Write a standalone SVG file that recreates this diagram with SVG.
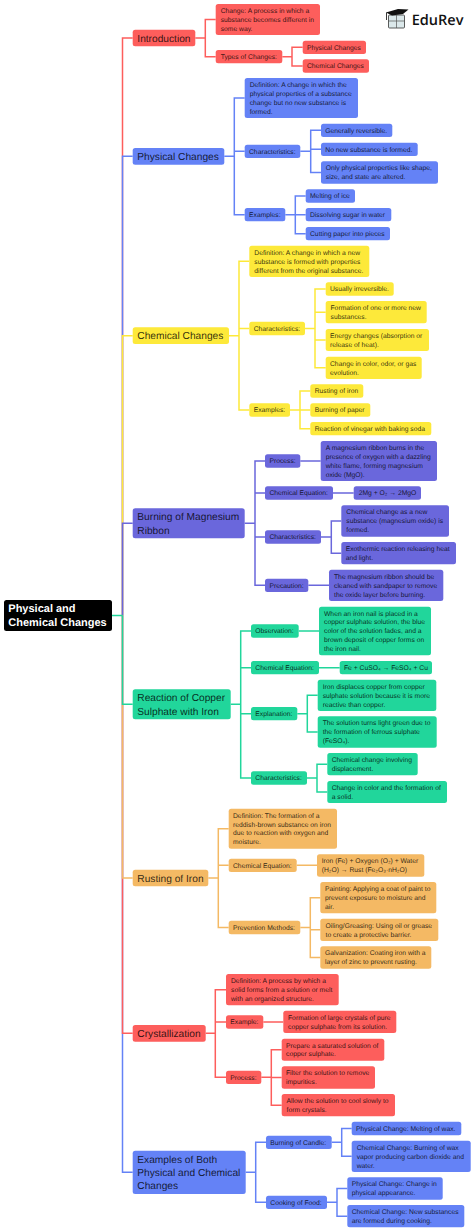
<svg xmlns="http://www.w3.org/2000/svg" width="474" height="1231" viewBox="0 0 474 1231">
<style>
text{font-family:"Liberation Sans",Arial,sans-serif;fill:#000;fill-opacity:.8;text-rendering:geometricPrecision}
.s{font-size:6.75px}.l{font-size:10.2px}
.r{font-size:11px;font-weight:700;fill:#fff;fill-opacity:1}
path{fill:none;stroke-width:1.5}
.cr{stroke:#fd5e5c}.cb{stroke:#6482f6}.cy{stroke:#fde93a}.cp{stroke:#6a67dc}.cg{stroke:#21d69b}.co{stroke:#f4b964}
.red rect{fill:#fd5e5c}.blue rect{fill:#6482f6}.yel rect{fill:#fde93a}.pur rect{fill:#6a67dc}.grn rect{fill:#21d69b}.org rect{fill:#f4b964}
rect{rx:2.5px;ry:2.5px}
</style>
<rect width="474" height="1231" fill="#fff" style="rx:0;ry:0"/>
<g id="connectors">
<path class="cr" d="M122.5 615.5V38H132.7"/>
<path class="cb" d="M122.5 615.5V156.35H132.7"/>
<path class="cy" d="M122.5 615.5V335.65H132.7"/>
<path class="cp" d="M122.5 615.5V523.3H132.7"/>
<path class="cb" d="M122.5 615.5V1172.35H132.7"/>
<path class="cr" d="M122.5 615.5V1033.35H132.7"/>
<path class="co" d="M122.5 615.5V878H132.7"/>
<path class="cg" d="M122.5 615.5V704.3H132.7"/>
<path class="cg" d="M112 615.5H122.5"/>
<path class="cr" d="M195.3 38H205.3M215.7 19.5H205.3V56.65H215.7M282.3 56.65H292M302.7 47.35H292V66H302.7"/>
<path class="cb" d="M224.3 156.35H234.3M244.7 98H234.3V214.65H244.7M234.3 151.35H244.7M300.3 151.35H310.7M321 130.35H310.7V172.5H321M310.7 149.35H321M285.3 214.65H295.3M305.7 196H295.3V233.65H305.7M295.3 214.65H305.7"/>
<path class="cy" d="M229 335.65H239M249.3 261.35H239V410H249.3M239 328.5H249.3M305 328.5H315M325.7 289H315V367.85H325.7M315 312.15H325.7M315 340H325.7M290 410H300M310.3 391H300V428.65H310.3M300 410H310.3"/>
<path class="cp" d="M244.7 523.3H255M265 461H255V585.35H265M255 493H265M255 537H265M300.3 461H320.7M333 493H353.7M321 537H331.3M341.3 521H331.3V553.15H341.3M308.3 585.35H329"/>
<path class="cg" d="M230.7 704.3H240.7M251 631H240.7V778H251M240.7 667.65H251M240.7 713.65H251M298.7 631H319M319 667.65H339.7M297.3 713.65H307.3M317.7 695.35H307.3V732H317.7M307 778H317M327.3 764.15H317V792H327.3"/>
<path class="co" d="M208.3 878H218.3M228.7 828.7H218.3V927.5H228.7M218.3 865.35H228.7M296.7 865.35H317M300.3 927.5H310.3M320.3 897.65H310.3V957.5H320.3M310.3 929.85H320.3"/>
<path class="cr" d="M205.7 1033.35H215.3M226 989.65H215.3V1077.35H226M215.3 1022H226M263.3 1022H283.3M261.3 1077.35H271.3M281.7 1049.7H271.3V1105.15H281.7M271.3 1077.5H281.7"/>
<path class="cb" d="M245.7 1172.35H255.7M266 1142.35H255.7V1202.35H266M331.7 1142.35H341.7M351.7 1128.5H341.7V1156.35H351.7M327 1202.35H337M347.3 1188.5H337V1216.15H347.3"/>
</g>
<g id="root"><rect x="4" y="600" width="108" height="31" fill="#000"/><text class="r" x="8.3" y="611.8">Physical and<tspan x="8.3" dy="14.6">Chemical Changes</tspan></text></g>

<g id="introduction" class="red"><rect x="132.7" y="29.7" width="62.6" height="16.6"/><text class="l" x="137.3" y="41.6">Introduction</text></g>
<g id="intro-change" class="red"><rect x="215.7" y="4" width="104.3" height="31"/><text class="s" x="220.7" y="12.9">Change: A process in which a<tspan x="220.7" dy="8.9">substance becomes different in</tspan><tspan x="220.7" dy="8.9">some way.</tspan></text></g>
<g id="intro-types" class="red"><rect x="215.7" y="50" width="66.6" height="13.3"/><text class="s" x="220.7" y="59">Types of Changes:</text></g>
<g id="intro-physical" class="red"><rect x="302.7" y="40.7" width="63.3" height="13.3"/><text class="s" x="306.9" y="49.7">Physical Changes</text></g>
<g id="intro-chemical" class="red"><rect x="302.7" y="59.3" width="66.3" height="13.4"/><text class="s" x="306.9" y="68.3">Chemical Changes</text></g>

<g id="physical" class="blue"><rect x="132.7" y="148" width="91.6" height="16.7"/><text class="l" x="137.3" y="160">Physical Changes</text></g>
<g id="phys-def" class="blue"><rect x="244.7" y="78" width="113.3" height="40"/><text class="s" x="249.7" y="86.95">Definition: A change in which the<tspan x="249.7" dy="8.9">physical properties of a substance</tspan><tspan x="249.7" dy="8.9">change but no new substance is</tspan><tspan x="249.7" dy="8.9">formed.</tspan></text></g>
<g id="phys-char" class="blue"><rect x="244.7" y="144.7" width="55.6" height="13.3"/><text class="s" x="249" y="153.7">Characteristics:</text></g>
<g id="phys-char1" class="blue"><rect x="321" y="123.7" width="71.3" height="13.3"/><text class="s" x="325.3" y="132.7">Generally reversible.</text></g>
<g id="phys-char2" class="blue"><rect x="321" y="142.7" width="96.7" height="13.3"/><text class="s" x="325.3" y="151.7">No new substance is formed.</text></g>
<g id="phys-char3" class="blue"><rect x="321" y="161.3" width="117" height="22.4"/><text class="s" x="325.8" y="170.35">Only physical properties like shape,<tspan x="325.8" dy="8.9">size, and state are altered.</tspan></text></g>
<g id="phys-ex" class="blue"><rect x="244.7" y="208" width="40.6" height="13.3"/><text class="s" x="249" y="217">Examples:</text></g>
<g id="phys-ex1" class="blue"><rect x="305.7" y="189.3" width="49.3" height="13.4"/><text class="s" x="310" y="198.3">Melting of ice</text></g>
<g id="phys-ex2" class="blue"><rect x="305.7" y="208" width="85.6" height="13.3"/><text class="s" x="310" y="217">Dissolving sugar in water</text></g>
<g id="phys-ex3" class="blue"><rect x="305.7" y="227" width="84.3" height="13.3"/><text class="s" x="310" y="236">Cutting paper into pieces</text></g>

<g id="chemical" class="yel"><rect x="132.7" y="327.3" width="96.3" height="16.7"/><text class="l" x="137.3" y="339.2">Chemical Changes</text></g>
<g id="chem-def" class="yel"><rect x="249.3" y="245.7" width="120" height="31.3"/><text class="s" x="254.3" y="254.75">Definition: A change in which a new<tspan x="254.3" dy="8.9">substance is formed with properties</tspan><tspan x="254.3" dy="8.9">different from the original substance.</tspan></text></g>
<g id="chem-char" class="yel"><rect x="249.3" y="321.7" width="55.7" height="13.6"/><text class="s" x="253.7" y="330.8">Characteristics:</text></g>
<g id="chem-char1" class="yel"><rect x="325.7" y="282.3" width="68" height="13.4"/><text class="s" x="330" y="291.3">Usually irreversible.</text></g>
<g id="chem-char2" class="yel"><rect x="325.7" y="301" width="101" height="22.3"/><text class="s" x="330.5" y="310">Formation of one or more new<tspan x="330.5" dy="8.9">substances.</tspan></text></g>
<g id="chem-char3" class="yel"><rect x="325.7" y="329" width="103.3" height="22"/><text class="s" x="330" y="337.85">Energy changes (absorption or<tspan x="330" dy="8.9">release of heat).</tspan></text></g>
<g id="chem-char4" class="yel"><rect x="325.7" y="356.7" width="96" height="22.3"/><text class="s" x="330" y="365.7">Change in color, odor, or gas<tspan x="330" dy="8.9">evolution.</tspan></text></g>
<g id="chem-ex" class="yel"><rect x="249.3" y="403.3" width="40.7" height="13.4"/><text class="s" x="253.7" y="412.3">Examples:</text></g>
<g id="chem-ex1" class="yel"><rect x="310.3" y="384.3" width="53" height="13.4"/><text class="s" x="314.7" y="393.3">Rusting of iron</text></g>
<g id="chem-ex2" class="yel"><rect x="310.3" y="403.3" width="60" height="13.4"/><text class="s" x="314.7" y="412.3">Burning of paper</text></g>
<g id="chem-ex3" class="yel"><rect x="310.3" y="422" width="121" height="13.3"/><text class="s" x="314.7" y="431">Reaction of vinegar with baking soda</text></g>

<g id="magnesium" class="pur"><rect x="132.7" y="508.3" width="112" height="30"/><text class="l" x="137.3" y="520.25">Burning of Magnesium<tspan x="137.3" dy="13.3">Ribbon</tspan></text></g>
<g id="mg-process" class="pur"><rect x="265" y="454.3" width="35.3" height="13.4"/><text class="s" x="269.4" y="463.3">Process:</text></g>
<g id="mg-process1" class="pur"><rect x="320.7" y="441" width="116.3" height="40"/><text class="s" x="325.7" y="449.95">A magnesium ribbon burns in the<tspan x="325.7" dy="8.9">presence of oxygen with a dazzling</tspan><tspan x="325.7" dy="8.9">white flame, forming magnesium</tspan><tspan x="325.7" dy="8.9">oxide (MgO).</tspan></text></g>
<g id="mg-eq" class="pur"><rect x="265" y="486.3" width="68" height="13.4"/><text class="s" x="269.4" y="495.3">Chemical Equation:</text></g>
<g id="mg-eq1" class="pur"><rect x="353.7" y="486.3" width="67.3" height="13.4"/><text class="s" x="358.7" y="495.3">2Mg + O₂ → 2MgO</text></g>
<g id="mg-char" class="pur"><rect x="265" y="530.3" width="56" height="13.4"/><text class="s" x="269.4" y="539.3">Characteristics:</text></g>
<g id="mg-char1" class="pur"><rect x="341.3" y="505.3" width="107.7" height="31.4"/><text class="s" x="346.3" y="514.4">Chemical change as a new<tspan x="346.3" dy="8.9">substance (magnesium oxide) is</tspan><tspan x="346.3" dy="8.9">formed.</tspan></text></g>
<g id="mg-char2" class="pur"><rect x="341.3" y="542" width="114.7" height="22.3"/><text class="s" x="345.7" y="551">Exothermic reaction releasing heat<tspan x="345.7" dy="8.9">and light.</tspan></text></g>
<g id="mg-prec" class="pur"><rect x="265" y="578.7" width="43.3" height="13.3"/><text class="s" x="269.4" y="587.7">Precaution:</text></g>
<g id="mg-prec1" class="pur"><rect x="329" y="569.7" width="114.3" height="31.3"/><text class="s" x="334" y="578.75">The magnesium ribbon should be<tspan x="334" dy="8.9">cleaned with sandpaper to remove</tspan><tspan x="334" dy="8.9">the oxide layer before burning.</tspan></text></g>

<g id="copper" class="grn"><rect x="132.7" y="689.3" width="98" height="30"/><text class="l" x="137.3" y="701.25">Reaction of Copper<tspan x="137.3" dy="13.3">Sulphate with Iron</tspan></text></g>
<g id="cu-obs" class="grn"><rect x="251" y="624.3" width="47.7" height="13.4"/><text class="s" x="255.3" y="633.3">Observation:</text></g>
<g id="cu-obs1" class="grn"><rect x="319" y="606.7" width="112" height="48.6"/><text class="s" x="324" y="615.5">When an iron nail is placed in a<tspan x="324" dy="8.9">copper sulphate solution, the blue</tspan><tspan x="324" dy="8.9">color of the solution fades, and a</tspan><tspan x="324" dy="8.9">brown deposit of copper forms on</tspan><tspan x="324" dy="8.9">the iron nail.</tspan></text></g>
<g id="cu-eq" class="grn"><rect x="251" y="661" width="68" height="13.3"/><text class="s" x="255.3" y="670">Chemical Equation:</text></g>
<g id="cu-eq1" class="grn"><rect x="339.7" y="661" width="92.3" height="13.3"/><text class="s" x="344" y="670">Fe + CuSO₄ → FeSO₄ + Cu</text></g>
<g id="cu-exp" class="grn"><rect x="251" y="707" width="46.3" height="13.3"/><text class="s" x="255.3" y="716">Explanation:</text></g>
<g id="cu-exp1" class="grn"><rect x="317.7" y="679.7" width="118.6" height="31.3"/><text class="s" x="322.7" y="688.75">Iron displaces copper from copper<tspan x="322.7" dy="8.9">sulphate solution because it is more</tspan><tspan x="322.7" dy="8.9">reactive than copper.</tspan></text></g>
<g id="cu-exp2" class="grn"><rect x="317.7" y="716.3" width="119" height="31.4"/><text class="s" x="322.7" y="725.4">The solution turns light green due to<tspan x="322.7" dy="8.9">the formation of ferrous sulphate</tspan><tspan x="322.7" dy="8.9">(FeSO₄).</tspan></text></g>
<g id="cu-char" class="grn"><rect x="251" y="771.3" width="56" height="13.4"/><text class="s" x="255.3" y="780.3">Characteristics:</text></g>
<g id="cu-char1" class="grn"><rect x="327.3" y="753" width="90.4" height="22.3"/><text class="s" x="331.7" y="762">Chemical change involving<tspan x="331.7" dy="8.9">displacement.</tspan></text></g>
<g id="cu-char2" class="grn"><rect x="327.3" y="781" width="119.7" height="22"/><text class="s" x="331.7" y="789.85">Change in color and the formation of<tspan x="331.7" dy="8.9">a solid.</tspan></text></g>

<g id="rusting" class="org"><rect x="132.7" y="869.7" width="75.6" height="16.6"/><text class="l" x="137.3" y="881.6">Rusting of Iron</text></g>
<g id="rust-def" class="org"><rect x="228.7" y="808.7" width="108.3" height="40"/><text class="s" x="233" y="817.65">Definition: The formation of a<tspan x="233" dy="8.9">reddish-brown substance on iron</tspan><tspan x="233" dy="8.9">due to reaction with oxygen and</tspan><tspan x="233" dy="8.9">moisture.</tspan></text></g>
<g id="rust-eq" class="org"><rect x="228.7" y="858.7" width="68" height="13.3"/><text class="s" x="233" y="867.7">Chemical Equation:</text></g>
<g id="rust-eq1" class="org"><rect x="317" y="854.3" width="107.3" height="22.4"/><text class="s" x="321.7" y="863.35">Iron (Fe) + Oxygen (O₂) + Water<tspan x="321.7" dy="8.9">(H₂O) → Rust (Fe₂O₃·nH₂O)</tspan></text></g>
<g id="rust-prev" class="org"><rect x="228.7" y="920.7" width="71.6" height="13.6"/><text class="s" x="233" y="929.8">Prevention Methods:</text></g>
<g id="rust-prev1" class="org"><rect x="320.3" y="882" width="116" height="31.3"/><text class="s" x="325" y="891">Painting: Applying a coat of paint to<tspan x="325" dy="8.9">prevent exposure to moisture and</tspan><tspan x="325" dy="8.9">air.</tspan></text></g>
<g id="rust-prev2" class="org"><rect x="320.3" y="918.7" width="118" height="22.3"/><text class="s" x="325.5" y="927.7">Oiling/Greasing: Using oil or grease<tspan x="325.5" dy="8.9">to create a protective barrier.</tspan></text></g>
<g id="rust-prev3" class="org"><rect x="320.3" y="946.3" width="111" height="22.4"/><text class="s" x="325" y="955.35">Galvanization: Coating iron with a<tspan x="325" dy="8.9">layer of zinc to prevent rusting.</tspan></text></g>

<g id="crystallization" class="red"><rect x="132.7" y="1025" width="73" height="16.7"/><text class="l" x="137.3" y="1037">Crystallization</text></g>
<g id="cry-def" class="red"><rect x="226" y="974" width="112.7" height="31.3"/><text class="s" x="231" y="983">Definition: A process by which a<tspan x="231" dy="8.9">solid forms from a solution or melt</tspan><tspan x="231" dy="8.9">with an organized structure.</tspan></text></g>
<g id="cry-ex" class="red"><rect x="226" y="1015.3" width="37.3" height="13.4"/><text class="s" x="230.3" y="1024.3">Example:</text></g>
<g id="cry-ex1" class="red"><rect x="283.3" y="1010.7" width="113" height="22.3"/><text class="s" x="288" y="1019.7">Formation of large crystals of pure<tspan x="288" dy="8.9">copper sulphate from its solution.</tspan></text></g>
<g id="cry-proc" class="red"><rect x="226" y="1070.7" width="35.3" height="13.3"/><text class="s" x="230.3" y="1079.7">Process:</text></g>
<g id="cry-proc1" class="red"><rect x="281.7" y="1038.7" width="102.6" height="22"/><text class="s" x="286" y="1047.55">Prepare a saturated solution of<tspan x="286" dy="8.9">copper sulphate.</tspan></text></g>
<g id="cry-proc2" class="red"><rect x="281.7" y="1066.3" width="93.3" height="22.4"/><text class="s" x="286" y="1075.35">Filter the solution to remove<tspan x="286" dy="8.9">impurities.</tspan></text></g>
<g id="cry-proc3" class="red"><rect x="281.7" y="1094" width="113.3" height="22.3"/><text class="s" x="286.5" y="1103">Allow the solution to cool slowly to<tspan x="286.5" dy="8.9">form crystals.</tspan></text></g>

<g id="both" class="blue"><rect x="132.7" y="1150.7" width="113" height="43.3"/><text class="l" x="137.3" y="1162.65">Examples of Both<tspan x="137.3" dy="13.3">Physical and Chemical</tspan><tspan x="137.3" dy="13.3">Changes</tspan></text></g>
<g id="both-candle" class="blue"><rect x="266" y="1135.7" width="65.7" height="13.3"/><text class="s" x="270.3" y="1144.7">Burning of Candle:</text></g>
<g id="both-candle1" class="blue"><rect x="351.7" y="1121.7" width="109.6" height="13.6"/><text class="s" x="356" y="1130.8">Physical Change: Melting of wax.</text></g>
<g id="both-candle2" class="blue"><rect x="351.7" y="1140.7" width="119" height="31.3"/><text class="s" x="356.7" y="1149.75">Chemical Change: Burning of wax<tspan x="356.7" dy="8.9">vapor producing carbon dioxide and</tspan><tspan x="356.7" dy="8.9">water.</tspan></text></g>
<g id="both-food" class="blue"><rect x="266" y="1195.7" width="61" height="13.3"/><text class="s" x="270.3" y="1204.7">Cooking of Food:</text></g>
<g id="both-food1" class="blue"><rect x="347.3" y="1177.3" width="95.4" height="22.4"/><text class="s" x="351.7" y="1186.35">Physical Change: Change in<tspan x="351.7" dy="8.9">physical appearance.</tspan></text></g>
<g id="both-food2" class="blue"><rect x="347.3" y="1205" width="117" height="22.3"/><text class="s" x="351.7" y="1214">Chemical Change: New substances<tspan x="351.7" dy="8.9">are formed during cooking.</tspan></text></g>

<g id="logo">
<rect x="388.5" y="15" width="16" height="13" fill="#dbe8ea" stroke="#333" stroke-width=".8" style="rx:1px;ry:1px"/>
<path d="M388.5 21H404.5M396.5 15V28" stroke="#555" style="stroke-width:.7"/>
<polygon points="386,12.5 398,9 408.5,9.5 403,14 392,15.5" fill="#111"/>
<path d="M386.5 12.5V20" stroke="#222" style="stroke-width:.9"/>
<text x="411.7" y="25" style="font-family:'Open Sans',sans-serif;font-size:14.5px;font-weight:600;fill:#111;fill-opacity:1">EduRev</text>
</g>
</svg>
